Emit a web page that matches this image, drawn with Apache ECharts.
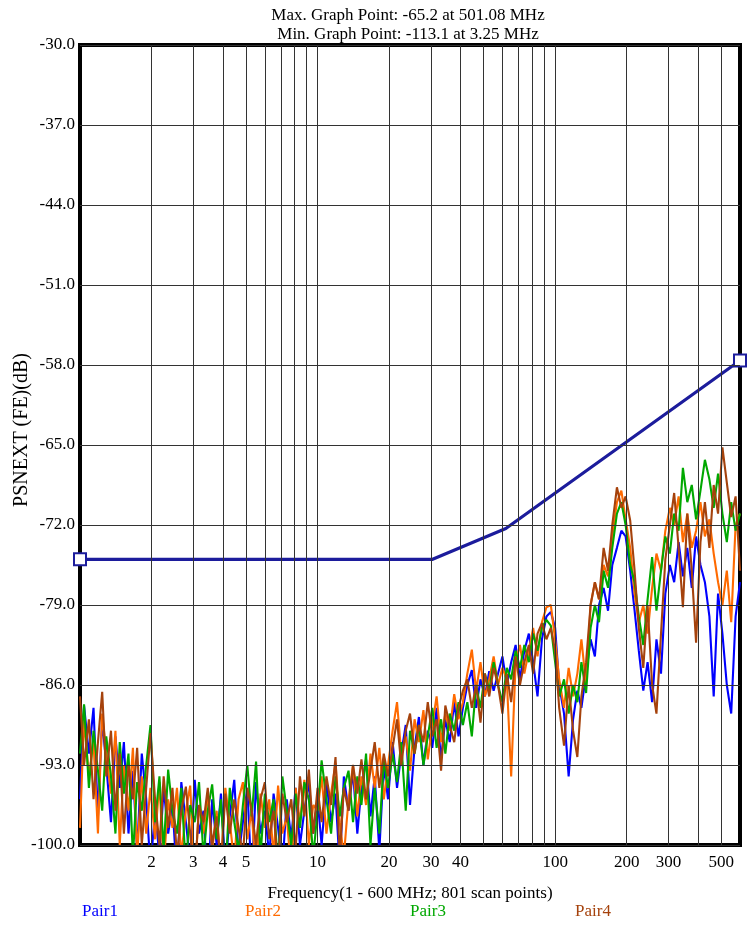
<!DOCTYPE html>
<html>
<head>
<meta charset="utf-8">
<title>PSNEXT (FE)</title>
<script src="https://cdn.jsdelivr.net/npm/echarts@6.0.0/dist/echarts.min.js"></script>
<style>
  html, body { margin: 0; padding: 0; background: #fff; }
  #chart { width: 752px; height: 925px; }
</style>
</head>
<body>
<div id="chart"></div>
<script>
// scan frequencies (MHz)
const freqs = [
  1.00, 1.04, 1.09, 1.14, 1.19, 1.24, 1.29, 1.35, 1.41, 1.47,
  1.53, 1.60, 1.67, 1.74, 1.82, 1.90, 1.98, 2.07, 2.16, 2.25,
  2.35, 2.45, 2.56, 2.67, 2.79, 2.91, 3.04, 3.17, 3.31, 3.45,
  3.60, 3.76, 3.92, 4.09, 4.27, 4.46, 4.65, 4.85, 5.06, 5.28,
  5.51, 5.75, 6.00, 6.26, 6.53, 6.82, 7.11, 7.42, 7.75, 8.08,
  8.43, 8.80, 9.19, 9.59, 10.0, 10.4, 10.9, 11.4, 11.9, 12.4,
  12.9, 13.5, 14.1, 14.7, 15.3, 16.0, 16.7, 17.4, 18.2, 19.0,
  19.8, 20.7, 21.6, 22.5, 23.5, 24.5, 25.6, 26.7, 27.9, 29.1,
  30.4, 31.7, 33.1, 34.5, 36.0, 37.6, 39.2, 40.9, 42.7, 44.6,
  46.5, 48.5, 50.6, 52.8, 55.1, 57.5, 60.0, 62.6, 65.3, 68.2,
  71.1, 74.2, 77.5, 80.8, 84.3, 88.0, 91.9, 95.9, 100, 104,
  109, 114, 119, 124, 129, 135, 141, 147, 153, 160,
  167, 174, 182, 190, 198, 207, 216, 225, 235, 245,
  256, 267, 279, 291, 304, 317, 331, 345, 360, 376,
  392, 409, 427, 446, 465, 485, 506, 528, 551, 575,
  600
]

const pair1 = [
  -96, -87.8, -92, -88, -97.5, -89, -93, -98, -90.5, -95,
  -91, -99, -93.5, -100.5, -92, -96, -102, -97, -101, -95,
  -99, -96.5, -103, -94.5, -98, -101.5, -94.3, -99, -97, -104,
  -96, -100, -95.5, -102, -97.5, -94.3, -101, -98, -95, -103,
  -94.5, -99, -97, -101, -95.5, -98.5, -102, -96, -99.5, -95,
  -100, -97, -94.5, -99, -96, -100, -94.5, -98, -95.5, -102,
  -94, -97, -93.5, -99, -95, -92.5, -97.5, -94, -100.5, -93,
  -96, -91, -95, -92, -89.5, -96.5, -91.5, -88.8, -93, -90,
  -91.5, -88, -92.5, -89, -91, -87.5, -90.5, -88, -86, -84.7,
  -88, -85.5, -87, -84.8, -86.5, -85, -83.5, -86, -84, -82.5,
  -85.5, -83, -81.5, -84, -87, -82, -80, -79.6, -81, -86,
  -88.5, -94, -89, -86.5, -88, -85, -82, -83.5, -79, -77.5,
  -79.5, -75.5, -74, -72.5, -73, -76, -79.5, -83, -86.5, -84,
  -87.5, -82, -85, -78, -75.5, -77, -73.5, -76.5, -74, -77.5,
  -73, -75.5, -77, -80, -87, -78, -81.5, -86, -88.5, -80,
  -77
]

const pair2 = [
  -98.5, -89, -94, -91, -99, -88.5, -92, -95.5, -90, -100,
  -93, -97, -91.5, -101, -94, -99, -95, -99.5, -94.5, -102,
  -96, -98.5, -95, -101, -97, -94.8, -103, -96.5, -99, -95.5,
  -100.5, -97, -102, -95, -98, -101.5, -96, -94.5, -99.5, -97,
  -103, -95.5, -98.5, -96, -101, -94.8, -99, -97.5, -102.5, -95,
  -98, -94.3, -100, -96.5, -97, -94, -99, -95.5, -92.8, -98,
  -101, -96, -93, -97.5, -94, -96.5, -92, -95, -91.5, -96,
  -93, -90, -87.5, -92, -90.5, -93.5, -89, -91, -88.2, -92.5,
  -89.5, -87, -91, -88.5, -90, -86.8, -89, -87.5, -85, -82.9,
  -86.5, -84, -87, -85.5, -83.5, -86, -84.5, -85.5, -94, -84,
  -82.5, -85, -83, -81, -83.5, -80.5, -79.2, -79, -82, -85.5,
  -88, -84.5, -87, -85, -82, -86, -79, -77, -78.5, -75.5,
  -76.5, -73, -70, -69, -71.5, -74, -78, -80.5, -79, -81.5,
  -77.5, -74.5, -76, -72.5, -70.5, -72, -69.5, -73.5, -71, -74,
  -72.5, -70, -73, -71.5, -74.5, -77, -79, -76, -80.5, -72,
  -71
]

const pair3 = [
  -92, -87.7, -95, -90, -93.5, -97, -90.5, -94, -99, -91,
  -95.5, -92, -101, -94.5, -97, -93, -89.5, -98, -94, -100.5,
  -93.4, -97, -99, -95, -102, -96.5, -98, -94.5, -101, -97,
  -94.7, -99.5, -96, -103, -95, -98, -100.5, -96.5, -93, -97.5,
  -92.7, -101, -95.5, -98, -96, -102, -94, -97, -100, -95.5,
  -98.5, -94.5, -96, -101, -97, -92.6, -96, -99, -94, -97.5,
  -95, -93.5, -98, -94, -96.5, -92, -100, -95, -99, -92.5,
  -95, -92, -94.5, -91, -97, -90, -92, -89.5, -93, -90.5,
  -88, -91.5, -89, -92, -88.5, -90, -87.5, -89.5, -87.5, -90.5,
  -86, -88, -85, -86.5, -84, -86, -87.5, -84.5, -85.5, -83,
  -84.5, -82.5, -84, -81.5, -83, -81, -80.3, -80.8, -84, -87,
  -85.5, -88.5, -86, -87.5, -84, -86.7, -81, -79, -80.5, -76,
  -77.5, -74, -71, -70, -72, -75.5, -77, -80, -82.5, -78.5,
  -74.8, -79.5, -76, -73, -74.5, -71, -72.5, -67, -70, -68.5,
  -71.5, -69, -66.3, -68, -70.5, -67.5, -71, -73.5, -70, -72.5,
  -71
]

const pair4 = [
  -87, -93, -89, -96, -91, -86.6, -94, -90, -97, -92,
  -99, -93, -96, -91.5, -100, -95, -90.2, -96, -100, -94,
  -98.5, -95, -101, -97, -94.9, -99, -103, -96.5, -98, -95,
  -100, -97.5, -102, -95.5, -99, -96, -98.5, -101, -95, -97,
  -100, -96, -94.5, -99.5, -97, -102, -95.5, -98, -96, -100.5,
  -94, -97.5, -93.4, -99, -95, -98, -94, -96.5, -92.3, -101,
  -95, -97, -93, -95.5, -92.5, -96, -93.5, -91, -95, -92,
  -94, -91.5, -89, -93, -90, -88.5, -92, -89.5, -91, -87.5,
  -90.5, -89, -93.5, -87.8, -89.5, -91, -88, -86.5, -85.5, -88,
  -86, -89.3, -85, -87, -84.5, -86, -88.5, -85, -87.5, -83.5,
  -86, -84, -82.5, -85, -81.5, -80.6, -82, -81, -83, -88,
  -91.3, -86, -90, -92.3, -87, -84, -79, -77, -78.5, -74,
  -76, -72, -68.7, -70.5, -69.5, -71.6, -76, -81, -84.5, -79,
  -86, -88.5, -81.5, -75, -72, -69.2, -74, -79.2, -71, -76,
  -82.3, -73.5, -70, -74, -68.5, -71, -65.2, -68.3, -71.3, -69.5,
  -76
]

// limit line
const limitFreqs = [1, 30.5, 62, 600]
const limitValues = [-75, -75, -72.3, -57.6]

const xGridValues = [2, 3, 4, 5, 6, 7, 8, 9, 10, 20, 30, 40, 50, 60, 70, 80, 90, 100, 200, 300, 400, 500]
const xTickLabels = [2, 3, 4, 5, 10, 20, 30, 40, 100, 200, 300, 500]
const yTicks = [-100, -93, -86, -79, -72, -65, -58, -51, -44, -37, -30]

const font = 'Liberation Serif'
const pairs = [
  { name: 'Pair1', color: '#0000ff', values: pair1 },
  { name: 'Pair2', color: '#ff6a00', values: pair2 },
  { name: 'Pair3', color: '#00a800', values: pair3 },
  { name: 'Pair4', color: '#a5420c', values: pair4 }
]
const legendLeft = [82, 245, 410, 575]

const chart = echarts.init(document.getElementById('chart'))

const gridLines = xGridValues.map(v => ({
  xAxis: v,
  label: { show: xTickLabels.includes(v), formatter: String(v) }
})).concat(yTicks.map(v => ({
  yAxis: v,
  label: { show: true, formatter: v.toFixed(1), distance: 5 }
})))

chart.setOption({
  animation: false,
  backgroundColor: '#fff',
  title: {
    text: 'Max. Graph Point: -65.2 at 501.08 MHz\nMin. Graph Point: -113.1 at 3.25 MHz',
    left: 408,
    top: 6,
    textAlign: 'center',
    padding: 0,
    textStyle: { fontFamily: font, fontSize: 17, fontWeight: 'normal', color: '#000', lineHeight: 19 }
  },
  legend: pairs.map((p, i) => ({
    left: legendLeft[i] - 5,
    top: 903,
    padding: 0,
    icon: 'none',
    itemWidth: 0,
    itemHeight: 0,
    selectedMode: false,
    data: [{ name: p.name, textStyle: { color: p.color } }],
    textStyle: { fontFamily: font, fontSize: 17 }
  })),
  grid: {
    left: 80,
    right: 12,
    top: 45,
    bottom: 80,
    show: true,
    borderColor: '#000',
    borderWidth: 4
  },
  xAxis: {
    type: 'log',
    logBase: 10,
    min: 1,
    max: 600,
    name: 'Frequency(1 - 600 MHz; 801 scan points)',
    nameLocation: 'middle',
    nameGap: 40,
    nameTextStyle: { fontFamily: font, fontSize: 17, color: '#000' },
    axisLine: { show: false },
    axisTick: { show: false },
    axisLabel: { show: false },
    splitLine: { show: false }
  },
  yAxis: {
    type: 'value',
    min: -100,
    max: -30,
    name: 'PSNEXT (FE)(dB)',
    nameLocation: 'middle',
    nameGap: 48,
    nameTextStyle: { fontFamily: font, fontSize: 20, color: '#000', padding: [0, 0, 0, 30] },
    axisLine: { show: false },
    axisTick: { show: false },
    axisLabel: { show: false },
    splitLine: { show: false }
  },
  series: [
    {
      name: 'grid',
      type: 'line',
      data: [],
      z: 1,
      silent: true,
      markLine: {
        silent: true,
        symbol: ['none', 'none'],
        lineStyle: { type: 'solid', color: '#333', width: 1 },
        label: {
          position: 'start',
          distance: 9,
          color: '#000',
          fontFamily: font,
          fontSize: 17
        },
        emphasis: { disabled: true },
        data: gridLines
      }
    },
    ...pairs.map(p => ({
      name: p.name,
      type: 'line',
      symbol: 'none',
      z: 2,
      lineStyle: { width: 2.1, color: p.color },
      itemStyle: { color: p.color },
      emphasis: { disabled: true },
      data: freqs.map((f, i) => [f, p.values[i]])
    })),
    {
      name: 'Limit',
      type: 'line',
      z: 3,
      symbolSize: 12,
      lineStyle: { width: 3.2, color: '#1c1c9c' },
      itemStyle: { color: '#1c1c9c', borderColor: '#1c1c9c', borderWidth: 2.5 },
      emphasis: { disabled: true },
      data: limitFreqs.map((f, i) => ({
        value: [f, limitValues[i]],
        symbol: (i === 0 || i === limitFreqs.length - 1) ? 'emptyRect' : 'none'
      }))
    }
  ]
})
</script>
</body>
</html>
